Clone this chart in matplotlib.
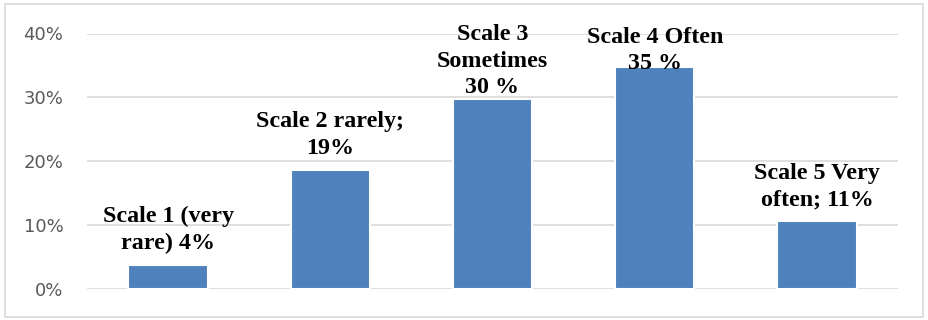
import matplotlib
matplotlib.use("Agg")
import matplotlib.pyplot as plt
from matplotlib.patches import Rectangle
from matplotlib.ticker import PercentFormatter

# bar values (share of answers)
scales = ["Scale 1", "Scale 2", "Scale 3", "Scale 4", "Scale 5"]
shares = [0.037, 0.187, 0.297, 0.347, 0.107]
bar_labels = [
    "Scale 1 (very\nrare) 4%",
    "Scale 2 rarely;\n19%",
    "Scale 3\nSometimes\n30 %",
    "Scale 4 Often\n35 %",
    "Scale 5 Very\noften; 11%",
]
y_ticks = [0, 0.1, 0.2, 0.3, 0.4]

# label offsets above bar tops, in points (labels were moved by hand in the original)
label_offsets = [12, 11.5, 4.5, -1.5, 11]

fig = plt.figure(figsize=(9.29, 3.2), dpi=100)
ax = fig.add_axes([87 / 929, 1 - 289 / 320, 811 / 929, 255.5 / 320])

x = range(len(scales))
bars = ax.bar(x, shares, width=0.49, color="#4f81bd", edgecolor="white",
              linewidth=1.5, zorder=3)

for i, b in enumerate(bars):
    ax.annotate(bar_labels[i], (b.get_x() + b.get_width() / 2, b.get_height()),
                xytext=(0, label_offsets[i]), textcoords="offset points",
                ha="center", va="baseline", fontsize=17.3, fontweight="bold",
                family="Liberation Serif", linespacing=1.33, zorder=5,
                annotation_clip=False)

ax.set_xlim(-0.5, len(scales) - 0.5)
ax.set_ylim(0, 0.40)
ax.set_yticks(y_ticks)
ax.yaxis.set_major_formatter(PercentFormatter(1.0, decimals=0))
ax.set_xticks([])
ax.tick_params(axis="y", length=0, pad=17, labelsize=13, labelcolor="#595959")
ax.grid(axis="y", color="#d9d9d9", linewidth=1.2, zorder=0)
for s in ax.spines.values():
    s.set_visible(False)

# light outer frame like the Excel chart area
fig.patches.append(Rectangle((5 / 929, 3 / 320), 918 / 929, 313 / 320,
                             transform=fig.transFigure, fill=False,
                             edgecolor="#d9d9d9", linewidth=1.2))

fig.savefig("out.png", dpi=100)
